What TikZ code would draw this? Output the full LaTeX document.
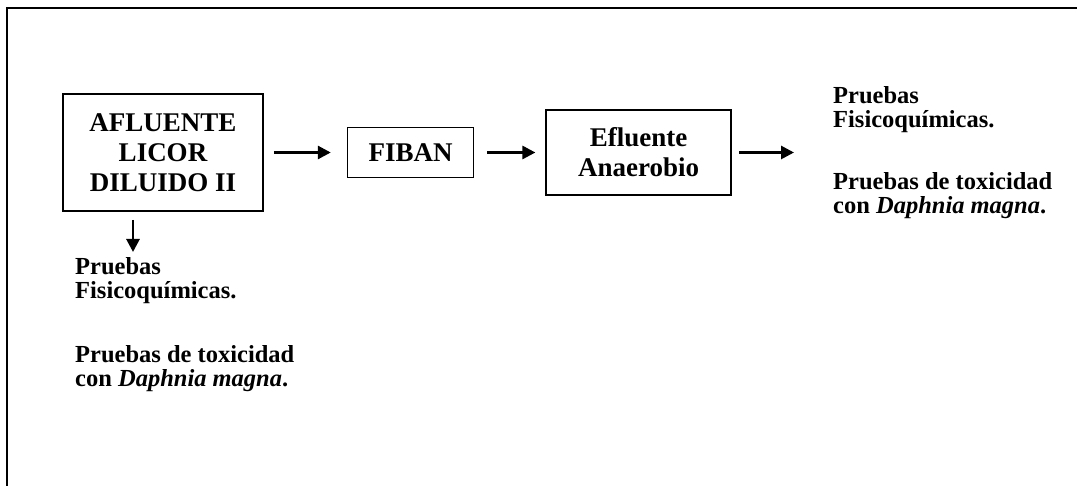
\documentclass[tikz,border=0pt]{standalone}
\usepackage{fontspec}
\setmainfont{Liberation Serif}
\usetikzlibrary{arrows.meta,positioning}

\begin{document}
\begin{tikzpicture}[x=1pt,y=-1pt,
        box/.style={draw,line width=1.6pt,align=center,inner sep=0pt,font=\fontsize{27}{30}\selectfont\bfseries},
        txt/.style={align=left,inner sep=0pt,anchor=north west,font=\fontsize{24.5}{24}\selectfont\bfseries},
        a/.style={-{Triangle[length=13pt,width=13pt]},line width=2.8pt}]
        \useasboundingbox (0,0) rectangle (1077,486);
        \draw[line width=1.8pt] (7,486) |- (1077,8);
        \node[box,minimum width=200pt,minimum height=117pt] (afl) at (163,152.5) {AFLUENTE\\LICOR\\DILUIDO II};
        \node[box,minimum width=126pt,minimum height=50pt,right=83pt of afl] (fiban) {FIBAN};
        \node[box,minimum width=185pt,minimum height=85pt,right=71pt of fiban] (efl) {Efluente\\Anaerobio};
        \coordinate[right=62pt of efl] (out);
        \coordinate (dn) at (133,252);
        \draw[a,shorten <=10pt,shorten >=16pt] (afl)--(fiban);
        \draw[a,shorten <=13pt,shorten >=10pt] (fiban)--(efl);
        \draw[a,shorten <=7pt] (efl)--(out);
        \draw[a,shorten <=8pt] (afl.south -| dn)--(dn);
        \node[txt] (lfis) at (75,257) {Pruebas\\Fisicoquímicas.};
        \node[txt,below=42pt of lfis.south west,anchor=north west] (ltox) {Pruebas de toxicidad\\con \textit{Daphnia magna}.};
        \node[txt] (rfis) at (833,86) {Pruebas\\Fisicoquímicas.};
        \node[txt,below=40pt of rfis.south west,anchor=north west] (rtox) {Pruebas de toxicidad\\con \textit{Daphnia magna}.};
      \end{tikzpicture}
\end{document}
